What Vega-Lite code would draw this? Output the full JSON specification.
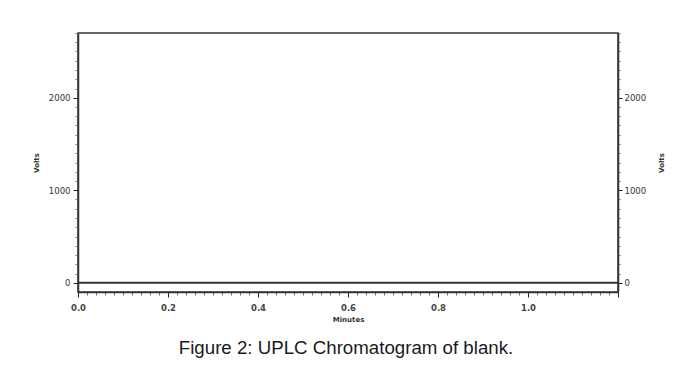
{
  "$schema": "https://vega.github.io/schema/vega-lite/v6.json",
  "width": 540,
  "height": 259,
  "autosize": {"type": "none"},
  "padding": {"left": 78, "top": 33, "right": 65, "bottom": 75},
  "background": "white",
  "view": {"stroke": "#333333", "strokeWidth": 1.5},
  "title": {
    "text": "Figure 2: UPLC Chromatogram of blank.",
    "orient": "bottom",
    "anchor": "middle",
    "font": "Liberation Sans",
    "fontSize": 18.7,
    "fontWeight": "normal",
    "color": "#1a1a1a",
    "offset": 16,
    "dx": -2
  },
  "data": {"values": [
    {"minutes": 0, "volts": 0},
    {"minutes": 1.2, "volts": 0}
  ]},
  "encoding": {
    "x": {
      "field": "minutes", "type": "quantitative",
      "scale": {"domain": [0, 1.2], "nice": false, "zero": false},
      "axis": {
        "orient": "bottom",
        "title": "Minutes",
        "grid": false,
        "values": [0, 0.02, 0.04, 0.06, 0.08, 0.1, 0.12, 0.14, 0.16, 0.18, 0.2, 0.22, 0.24, 0.26, 0.28, 0.3, 0.32, 0.34, 0.36, 0.38, 0.4, 0.42, 0.44, 0.46, 0.48, 0.5, 0.52, 0.54, 0.56, 0.58, 0.6, 0.62, 0.64, 0.66, 0.68, 0.7, 0.72, 0.74, 0.76, 0.78, 0.8, 0.82, 0.84, 0.86, 0.88, 0.9, 0.92, 0.94, 0.96, 0.98, 1.0, 1.02, 1.04, 1.06, 1.08, 1.1, 1.12, 1.14, 1.16, 1.18, 1.2],
        "labelExpr": "(abs(datum.value*5 - round(datum.value*5)) < 0.001 && datum.value < 1.1) ? format(datum.value, '.1f') : ''",
        "labelOverlap": false,
        "labelFlush": false,
        "labelFont": "DejaVu Sans",
        "labelFontSize": 8.5,
        "labelFontWeight": 600,
        "labelColor": "#444444",
        "labelPadding": 6,
        "tickSize": {"condition": {"test": "abs(datum.value*5 - round(datum.value*5)) < 0.001", "value": 5}, "value": 3},
        "tickColor": {"condition": {"test": "abs(datum.value*5 - round(datum.value*5)) < 0.001", "value": "#222222"}, "value": "#777777"},
        "tickWidth": 1,
        "domainColor": "#333333",
        "domainWidth": 1.5,
        "titleFont": "DejaVu Sans",
        "titleFontSize": 7,
        "titleFontWeight": "bold",
        "titleColor": "#333333",
        "titlePadding": 4
      }
    }
  },
  "layer": [
    {
      "mark": {"type": "line", "color": "#333333", "strokeWidth": 2, "clip": true},
      "encoding": {
        "y": {
          "field": "volts", "type": "quantitative",
          "scale": {"domain": [-100, 2700], "nice": false, "zero": false},
          "axis": {
            "orient": "left",
            "title": "Volts",
            "titleAngle": -90,
            "grid": false,
            "values": [0, 100, 200, 300, 400, 500, 600, 700, 800, 900, 1000, 1100, 1200, 1300, 1400, 1500, 1600, 1700, 1800, 1900, 2000, 2100, 2200, 2300, 2400, 2500, 2600, 2700],
            "labelExpr": "datum.value % 1000 == 0 ? format(datum.value, 'd') : ''",
            "labelOverlap": false,
            "labelFlush": false,
            "labelFont": "DejaVu Sans",
            "labelFontSize": 8.5,
            "labelColor": "#333333",
            "labelPadding": 3,
            "tickSize": {"condition": {"test": "datum.value % 1000 == 0", "value": 5}, "value": 3},
            "tickColor": {"condition": {"test": "datum.value % 1000 == 0", "value": "#222222"}, "value": "#777777"},
            "domainColor": "#333333",
            "domainWidth": 1.5,
            "titleFont": "DejaVu Sans",
            "titleFontSize": 7,
            "titleFontWeight": "bold",
            "titleColor": "#333333",
            "titlePadding": 9
          }
        }
      }
    },
    {
      "mark": {"type": "line", "strokeOpacity": 0},
      "encoding": {
        "y": {
          "field": "volts", "type": "quantitative",
          "axis": {
            "orient": "right",
            "title": "Volts",
            "titleAngle": -90,
            "grid": false,
            "values": [0, 100, 200, 300, 400, 500, 600, 700, 800, 900, 1000, 1100, 1200, 1300, 1400, 1500, 1600, 1700, 1800, 1900, 2000, 2100, 2200, 2300, 2400, 2500, 2600, 2700],
            "labelExpr": "datum.value % 1000 == 0 ? format(datum.value, 'd') : ''",
            "labelOverlap": false,
            "labelFlush": false,
            "labelFont": "DejaVu Sans",
            "labelFontSize": 8.5,
            "labelColor": "#333333",
            "labelPadding": 2,
            "tickSize": {"condition": {"test": "datum.value % 1000 == 0", "value": 4}, "value": 2},
            "tickColor": {"condition": {"test": "datum.value % 1000 == 0", "value": "#222222"}, "value": "#777777"},
            "domainColor": "#333333",
            "domainWidth": 1.5,
            "titleFont": "DejaVu Sans",
            "titleFontSize": 7,
            "titleFontWeight": "bold",
            "titleColor": "#333333",
            "titlePadding": 19
          }
        }
      }
    }
  ],
  "resolve": {"axis": {"y": "independent"}}
}
